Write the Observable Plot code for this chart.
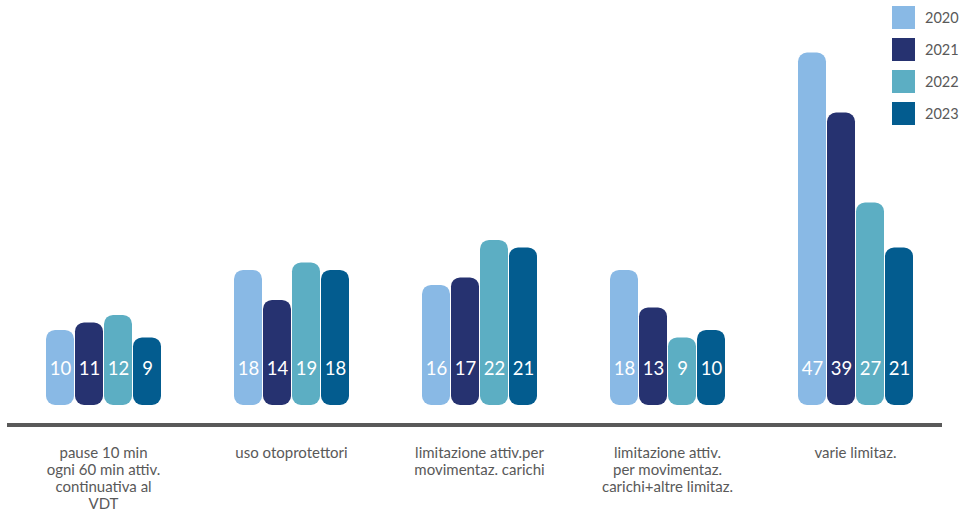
<!DOCTYPE html>
<html><head><meta charset="utf-8">
<script src="https://cdn.jsdelivr.net/npm/d3@7"></script>
<script src="https://cdn.jsdelivr.net/npm/@observablehq/plot@0.6"></script>
<style>
body{margin:0;background:#fff;font-family:Lato,sans-serif}
#wrap{position:relative;width:961px;height:513px}
#legend{position:absolute;left:892px;top:6px}
.item{display:flex;align-items:center;height:23px;margin-bottom:9px}
.sw{width:23px;height:23px;margin-right:10px}
.lab{font-size:14.5px;color:#595959;font-family:Lato,sans-serif}
</style></head><body><div id="wrap"><div id="legend"></div></div>
<script>
const categories = [
  "pause 10 min\nogni 60 min attiv.\ncontinuativa al\nVDT",
  "uso otoprotettori",
  "limitazione attiv.per\nmovimentaz. carichi",
  "limitazione attiv.\nper movimentaz.\ncarichi+altre limitaz.",
  "varie limitaz."
];
const years = ["2020", "2021", "2022", "2023"];
const values2020 = [10, 18, 16, 18, 47];
const values2021 = [11, 14, 17, 13, 39];
const values2022 = [12, 19, 22, 9, 27];
const values2023 = [9, 18, 21, 10, 21];
const colors = ["#89B9E5", "#263270", "#5CAEC3", "#035C8F"];

const series = [values2020, values2021, values2022, values2023];
const data = [];
categories.forEach((c, i) => years.forEach((y, j) => data.push({category: c, year: y, value: series[j][i]})));

const yBase = -2.67;

const chart = Plot.plot({
  width: 961,
  height: 513,
  marginLeft: 7,
  marginRight: 19,
  marginTop: 0,
  marginBottom: 88,
  style: {fontFamily: "Lato, sans-serif", background: "#fff"},
  fx: {domain: categories, paddingInner: 0.384, paddingOuter: 0.171, align: 0.565, axis: null},
  x: {domain: years, paddingInner: 0.035, paddingOuter: 0, axis: null},
  y: {domain: [yBase, 54], axis: null},
  color: {domain: years, range: colors},
  marks: [
    Plot.barY(data, {fx: "category", x: "year", y1: 0, y2: "value", fill: "year", rx: 9}),
    Plot.text(data, {fx: "category", x: "year", y: () => 0, dy: -36, text: d => String(d.value), fill: "white", fontSize: 18.5, lineAnchor: "middle"}),
    Plot.axisFx({anchor: "bottom", tickSize: 0, tickPadding: 20, fontSize: 15, lineHeight: 1.14, fill: "#595959", label: null})
  ]
});

// horizontal axis line across the whole plot width, positioned via the y scale
const yScale = chart.scale("y");
const yLine = yScale.apply(yBase);
d3.select(chart).append("line")
  .attr("x1", 7).attr("x2", 942)
  .attr("y1", yLine).attr("y2", yLine)
  .attr("stroke", "#595959").attr("stroke-width", 4);

document.getElementById("wrap").prepend(chart);

const legend = document.getElementById("legend");
years.forEach((y, j) => {
  const it = document.createElement("div");
  it.className = "item";
  it.innerHTML = `<div class="sw" style="background:${colors[j]}"></div><span class="lab">${y}</span>`;
  legend.appendChild(it);
});
</script>
</body></html>
